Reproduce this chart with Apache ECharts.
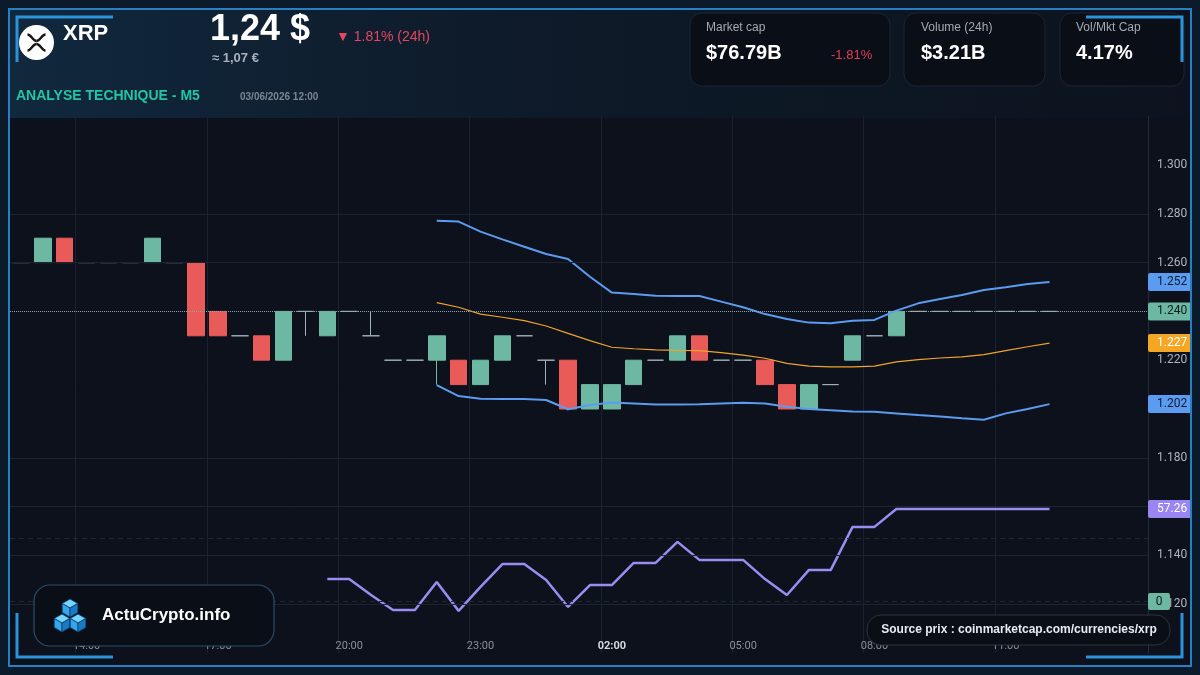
<!DOCTYPE html>
<html>
<head>
<meta charset="utf-8">
<title>XRP - Analyse technique M5</title>
<script src="https://cdn.jsdelivr.net/npm/echarts@6/dist/echarts.min.js"></script>
<style>
  html, body { margin: 0; padding: 0; background: #0c111b; }
  #main { width: 1200px; height: 675px; }
</style>
</head>
<body>
<div id="main"></div>
<script>
// axe des temps : bougies de 30 min, la derniere bougie = 12:00
var times = ['12:30','13:00','13:30','14:00','14:30','15:00','15:30','16:00','16:30','17:00',
  '17:30','18:00','18:30','19:00','19:30','20:00','20:30','21:00','21:30','22:00',
  '22:30','23:00','23:30','00:00','00:30','01:00','01:30','02:00','02:30','03:00',
  '03:30','04:00','04:30','05:00','05:30','06:00','06:30','07:00','07:30','08:00',
  '08:30','09:00','09:30','10:00','10:30','11:00','11:30','12:00','12:30','13:00',
  '13:30','14:00'];

// bougies (open / close / low / high)
var opens  = [1.260,1.260,1.270,1.260,1.260,1.260,1.260,1.260,1.260,1.240,
  1.230,1.230,1.220,1.240,1.230,1.240,1.230,1.220,1.220,1.220,
  1.220,1.210,1.220,1.230,1.220,1.220,1.200,1.200,1.210,1.220,
  1.220,1.230,1.220,1.220,1.220,1.210,1.200,1.210,1.220,1.230,
  1.230,1.240,1.240,1.240,1.240,1.240,1.240,1.240];
var closes = [1.260,1.270,1.260,1.260,1.260,1.260,1.270,1.260,1.230,1.230,
  1.230,1.220,1.240,1.240,1.240,1.240,1.230,1.220,1.220,1.230,
  1.210,1.220,1.230,1.230,1.220,1.200,1.210,1.210,1.220,1.220,
  1.230,1.220,1.220,1.220,1.210,1.200,1.210,1.210,1.230,1.230,
  1.240,1.240,1.240,1.240,1.240,1.240,1.240,1.240];
var lows   = [1.260,1.260,1.260,1.260,1.260,1.260,1.260,1.260,1.230,1.230,
  1.230,1.220,1.220,1.230,1.230,1.240,1.230,1.220,1.220,1.210,
  1.210,1.210,1.220,1.230,1.210,1.1995,1.200,1.200,1.210,1.220,
  1.220,1.220,1.220,1.220,1.210,1.200,1.200,1.210,1.220,1.230,
  1.230,1.240,1.240,1.240,1.240,1.240,1.240,1.240];
var highs  = [1.260,1.270,1.270,1.260,1.260,1.260,1.270,1.260,1.260,1.240,
  1.230,1.230,1.240,1.240,1.240,1.240,1.240,1.220,1.220,1.230,
  1.220,1.220,1.230,1.230,1.220,1.220,1.210,1.210,1.220,1.220,
  1.230,1.230,1.220,1.220,1.220,1.210,1.210,1.210,1.230,1.230,
  1.240,1.240,1.240,1.240,1.240,1.240,1.240,1.240];

// bandes de Bollinger, a partir de la bougie 19
var bbStart = 19;
var bbUpper  = [1.2772,1.2768,1.2727,1.2695,1.2665,1.2635,1.2615,1.2542,1.2477,1.2471,
  1.2464,1.2463,1.2463,1.2440,1.2417,1.2389,1.2369,1.2354,1.2351,1.2362,
  1.2365,1.2403,1.2433,1.2451,1.2467,1.2488,1.2499,1.2512,1.2520];
var bbMiddle = [1.2436,1.2417,1.2389,1.2376,1.2362,1.2340,1.2310,1.2280,1.2253,1.2247,
  1.2242,1.2240,1.2239,1.2231,1.2221,1.2208,1.2187,1.2176,1.2173,1.2173,
  1.2176,1.2193,1.2202,1.2209,1.2214,1.2223,1.2239,1.2255,1.2270];
var bbLower  = [1.2098,1.2053,1.2042,1.2041,1.2041,1.2037,1.1999,1.2016,1.2027,1.2023,
  1.2018,1.2018,1.2019,1.2023,1.2026,1.2023,1.2009,1.2000,1.1995,1.1990,
  1.1989,1.1982,1.1975,1.1969,1.1962,1.1956,1.1982,1.2000,1.2020];

// RSI, a partir de la bougie 14
var rsiStart = 14;
var rsi = [33.9,33.9,28.6,23.6,23.6,32.9,23.3,31.3,38.9,38.9,
  33.6,24.6,31.9,31.9,39.3,39.3,46.3,40.3,40.3,40.3,
  33.9,28.6,36.9,36.9,51.3,51.3,57.26,57.26,57.26,57.26,
  57.26,57.26,57.26,57.26];
var rsiLevels = [47.6, 26.6];

// lignes de grille horizontales visibles
var gridLevels = [1.12, 1.14, 1.16, 1.18, 1.26, 1.28];

function pad(n, arr){
  return new Array(n).fill('-').concat(arr);
}
function last(arr){ return arr[arr.length - 1]; }

var candleData = opens.map(function(o, i){
  var item = { value: [o, closes[i], lows[i], highs[i]] };
  if (o === closes[i]) {
    item.itemStyle = { color: '#9fb2bd', color0: '#9fb2bd', borderColor: '#9fb2bd', borderColor0: '#9fb2bd' };
  }
  return item;
});

function tagLabel(bg, fg){
  return {
    show: true, position: 'end', distance: 0,
    formatter: function(p){ return p.value >= 10 ? p.value.toFixed(2) : p.value.toFixed(3); },
    backgroundColor: bg, color: fg, padding: [3, 8, 3, 9], borderRadius: 2,
    fontSize: 12, fontFamily: 'Roboto', opacity: 1
  };
}
// ligne invisible, seule l'etiquette reste
var hiddenLine = { color: 'rgba(0,0,0,0)', width: 0 };

var FONT = '"Liberation Sans", Arial, sans-serif';
var gBlue = '#2a93dc';

function cube(cx, cy, s){
  var h = 0.866 * s;
  var st = { stroke: '#0b3c6a', lineWidth: 0.8 };
  return [
    { type: 'polygon', shape: { points: [[cx, cy - s], [cx + h, cy - s / 2], [cx, cy], [cx - h, cy - s / 2]] }, style: Object.assign({ fill: '#74d6ff' }, st), z: 110 },
    { type: 'polygon', shape: { points: [[cx - h, cy - s / 2], [cx, cy], [cx, cy + s], [cx - h, cy + s / 2]] }, style: Object.assign({ fill: '#34a6ec' }, st), z: 110 },
    { type: 'polygon', shape: { points: [[cx, cy], [cx + h, cy - s / 2], [cx + h, cy + s / 2], [cx, cy + s]] }, style: Object.assign({ fill: '#1c79c4' }, st), z: 110 }
  ];
}

function card(x, w){
  return { type: 'rect', shape: { x: x, y: 13, width: w, height: 73, r: 12 },
    style: { fill: '#0a0e16', stroke: '#1d2532', lineWidth: 1 }, z: 100 };
}
function txt(x, y, text, font, fill, align){
  return { type: 'text', x: x, y: y, z: 105,
    style: { text: text, font: font, fill: fill, align: align || 'left', verticalAlign: 'middle' } };
}
function curve(x1, y1, c1x, c1y, c2x, c2y, x2, y2){
  return { type: 'bezierCurve', z: 106,
    shape: { x1: x1, y1: y1, cpx1: c1x, cpy1: c1y, cpx2: c2x, cpy2: c2y, x2: x2, y2: y2 },
    style: { fill: 'none', stroke: '#151515', lineWidth: 2.3 } };
}

var graphics = [
  // bandeau d'en-tete
  { type: 'rect', shape: { x: 10, y: 10, width: 1180, height: 108 }, silent: true, z: -1,
    style: { fill: new echarts.graphic.LinearGradient(0, 0, 1, 0, [
      { offset: 0, color: '#11283d' }, { offset: 0.4, color: '#0e1b2a' }, { offset: 1, color: '#0c131e' }]) } },
  { type: 'circle', shape: { cx: 36.5, cy: 42.5, r: 17.5 }, style: { fill: '#ffffff' }, z: 105 },
  curve(27.5, 34.5, 31.5, 34.5, 32.5, 41, 36.5, 41),
  curve(36.5, 41, 40.5, 41, 41.5, 34.5, 45.5, 34.5),
  curve(27.5, 50.5, 31.5, 50.5, 32.5, 44, 36.5, 44),
  curve(36.5, 44, 40.5, 44, 41.5, 50.5, 45.5, 50.5),
  txt(63, 34, 'XRP', 'bold 22px ' + FONT, '#ffffff'),
  txt(210, 30, '1,24 $', 'bold 36px ' + FONT, '#ffffff'),
  txt(212, 58, '\u2248 1,07 \u20ac', 'bold 13px ' + FONT, '#a9b1bd'),
  txt(336, 37, '\u25bc 1.81% (24h)', '14px ' + FONT, '#e5475f'),
  txt(16, 96, 'ANALYSE TECHNIQUE - M5', 'bold 14px ' + FONT, '#22c5a5'),
  txt(240, 97, '03/06/2026 12:00', 'bold 10px ' + FONT, '#7c8594'),

  // cartes
  card(690, 200), card(904, 141), card(1060, 124),
  txt(706, 28, 'Market cap', '12px ' + FONT, '#a3aab5'),
  txt(706, 53, '$76.79B', 'bold 20px ' + FONT, '#ffffff'),
  txt(831, 55, '-1.81%', '13px ' + FONT, '#e0405a'),
  txt(921, 28, 'Volume (24h)', '12px ' + FONT, '#a3aab5'),
  txt(921, 53, '$3.21B', 'bold 20px ' + FONT, '#ffffff'),
  txt(1076, 28, 'Vol/Mkt Cap', '12px ' + FONT, '#a3aab5'),
  txt(1076, 53, '4.17%', 'bold 20px ' + FONT, '#ffffff'),

  // logo
  { type: 'rect', shape: { x: 34, y: 585, width: 240, height: 61, r: 16 },
    style: { fill: '#0a0f17', stroke: '#2c4d6b', lineWidth: 1.2 }, z: 100 },
  txt(102, 615, 'ActuCrypto.info', 'bold 17px ' + FONT, '#ffffff'),

  // source
  { type: 'rect', shape: { x: 867, y: 615, width: 303, height: 30, r: 14 },
    style: { fill: '#0a0e15', stroke: '#2b3440', lineWidth: 1 }, z: 100 },
  txt(1019, 630, 'Source prix : coinmarketcap.com/currencies/xrp', 'bold 12px ' + FONT, '#e8ecf0', 'center'),

  // volume 0
  { type: 'rect', shape: { x: 1148, y: 593, width: 22, height: 17, r: 2 }, style: { fill: '#6cb8a2' }, z: 100 },
  txt(1159, 602, '0', '12px Roboto', '#0b1a1f', 'center'),

  // cadre
  { type: 'rect', shape: { x: 4, y: 4, width: 1192, height: 667 }, silent: true, z: 120,
    style: { fill: 'none', stroke: '#0c1b2b', lineWidth: 9 } },
  { type: 'rect', shape: { x: 9, y: 9, width: 1182, height: 657 }, silent: true, z: 121,
    style: { fill: 'none', stroke: '#2a7fc0', lineWidth: 2 } },
  { type: 'polyline', shape: { points: [[17, 62], [17, 17], [113, 17]] }, style: { stroke: gBlue, lineWidth: 3, fill: 'none' }, z: 122 },
  { type: 'polyline', shape: { points: [[1086, 17], [1182, 17], [1182, 62]] }, style: { stroke: gBlue, lineWidth: 3, fill: 'none' }, z: 122 },
  { type: 'polyline', shape: { points: [[17, 613], [17, 657], [113, 657]] }, style: { stroke: gBlue, lineWidth: 3, fill: 'none' }, z: 122 },
  { type: 'polyline', shape: { points: [[1086, 657], [1182, 657], [1182, 613]] }, style: { stroke: gBlue, lineWidth: 3, fill: 'none' }, z: 122 }
].concat(cube(70, 608, 9), cube(62, 623, 9), cube(78, 623, 9));

// un repere toutes les 3 h, seulement sur la plage des bougies
var showTick = function(idx){ return idx % 6 === 3 && idx < opens.length; };

var option = {
  backgroundColor: '#0c111b',
  animation: false,
  grid: [
    { left: 10, right: 52, top: 116.2, height: 536.8 },
    { left: 10, right: 52, top: 470.78, height: 150 }
  ],
  xAxis: [
    {
      type: 'category', data: times, gridIndex: 0,
      axisLine: { show: false }, axisTick: { show: false },
      axisLabel: {
        inside: true, margin: 1, interval: showTick, color: '#8a919c', fontSize: 11, fontFamily: 'Roboto',
        formatter: function(v){ return v === '02:00' ? '{b|' + v + '}' : v; },
        rich: { b: { color: '#d4d8de', fontWeight: 'bold', fontSize: 11, fontFamily: 'Roboto' } }
      },
      splitLine: { show: true, interval: showTick, lineStyle: { color: '#1b2130', width: 1 } }
    },
    { type: 'category', data: times, gridIndex: 1, show: false }
  ],
  yAxis: [
    {
      type: 'value', position: 'right', gridIndex: 0, min: 1.10, max: 1.32, interval: 0.02, scale: true,
      axisLine: { show: true, lineStyle: { color: '#262d3a' } }, axisTick: { show: false },
      splitLine: { show: false },
      axisLabel: {
        color: '#aeb4bd', fontSize: 12, fontFamily: 'Roboto', margin: 9,
        formatter: function(v){ return (v < 1.11 || v > 1.31) ? '' : v.toFixed(3); }
      }
    },
    { type: 'value', gridIndex: 1, min: 20, max: 70, show: false }
  ],
  series: [
    {
      // grille de prix
      type: 'line', data: times.map(function(){ return '-'; }), z: 1, silent: true,
      markLine: {
        silent: true, symbol: 'none', label: { show: false },
        lineStyle: { color: '#1c2331', type: 'solid', width: 1 },
        data: gridLevels.map(function(v){ return { yAxis: v }; })
      }
    },
    {
      // niveaux RSI
      type: 'line', xAxisIndex: 1, yAxisIndex: 1, data: times.map(function(){ return '-'; }), z: 1, silent: true,
      markLine: {
        silent: true, symbol: 'none', label: { show: false },
        lineStyle: { color: '#1d2933', type: [5, 4], width: 1 },
        data: rsiLevels.map(function(v){ return { yAxis: v }; })
      }
    },
    {
      name: 'XRP', type: 'candlestick', data: candleData, barWidth: 17, z: 3,
      itemStyle: { color: '#6cb8a2', color0: '#e85b59', borderColor: '#6cb8a2', borderColor0: '#e85b59', borderColorDoji: '#9fb2bd', borderWidth: 1 },
      markLine: {
        silent: true, symbol: 'none', precision: 4,
        lineStyle: { color: '#8fa3ad', type: 'dotted', width: 1 },
        label: tagLabel('#6cb8a2', '#0b1a1f'),
        data: [{ yAxis: last(closes) }]
      }
    },
    {
      name: 'BB haut', type: 'line', data: pad(bbStart, bbUpper), symbol: 'none', z: 4,
      lineStyle: { color: '#5b9cf0', width: 2 },
      markLine: { silent: true, symbol: 'none', precision: 4, lineStyle: hiddenLine, label: tagLabel('#5b9cf0', '#0d1a2e'), data: [{ yAxis: last(bbUpper) }] }
    },
    {
      name: 'BB milieu', type: 'line', data: pad(bbStart, bbMiddle), symbol: 'none', z: 4,
      lineStyle: { color: '#f0a42a', width: 1.2 },
      markLine: { silent: true, symbol: 'none', precision: 4, lineStyle: hiddenLine, label: tagLabel('#f5a623', '#ffffff'), data: [{ yAxis: last(bbMiddle) }] }
    },
    {
      name: 'BB bas', type: 'line', data: pad(bbStart, bbLower), symbol: 'none', z: 4,
      lineStyle: { color: '#5b9cf0', width: 2 },
      markLine: { silent: true, symbol: 'none', precision: 4, lineStyle: hiddenLine, label: tagLabel('#5b9cf0', '#0d1a2e'), data: [{ yAxis: last(bbLower) }] }
    },
    {
      name: 'RSI', type: 'line', xAxisIndex: 1, yAxisIndex: 1, data: pad(rsiStart, rsi), symbol: 'none', z: 4,
      lineStyle: { color: '#9b8cf2', width: 2.5 },
      markLine: { silent: true, symbol: 'none', precision: 4, lineStyle: hiddenLine, label: tagLabel('#9a86f2', '#ffffff'), data: [{ yAxis: last(rsi) }] }
    }
  ],
  graphic: graphics
};

var chart = echarts.init(document.getElementById('main'));
chart.setOption(option);
</script>
</body>
</html>
